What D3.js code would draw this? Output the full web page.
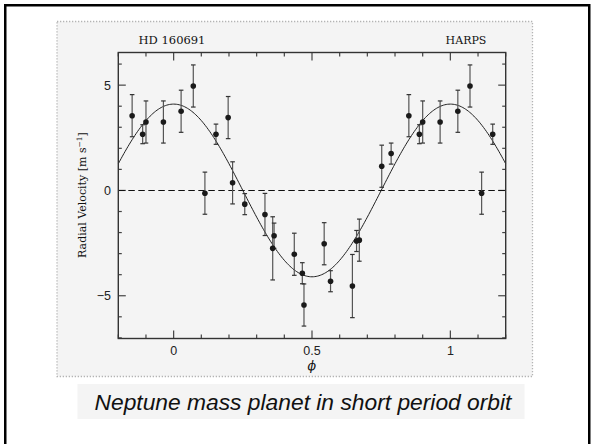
<!DOCTYPE html>
<html>
<head>
<meta charset="utf-8">
<script src="https://cdn.jsdelivr.net/npm/d3@7"></script>
<style>
  body { margin: 0; background: #fff; }
  svg { display: block; }
</style>
</head>
<body>
<div id="chart"></div>
<script>
// phase-folded radial velocities of HD 160691 (HARPS)
var phase = [0.027, 0.071, 0.113, 0.153, 0.197, 0.213, 0.257, 0.330, 0.358, 0.363,
             0.436, 0.465, 0.471, 0.544, 0.567, 0.646, 0.661, 0.671, 0.752, 0.786,
             0.850, 0.888, 0.900, 0.963];
var rv = [3.76, 4.96, -0.13, 2.67, 3.46, 0.36, -0.65, -1.14, -2.75, -2.15,
          -3.03, -3.93, -5.44, -2.53, -4.31, -4.54, -2.40, -2.36, 1.15, 1.75,
          3.55, 2.67, 3.25, 3.25];
var rvErr = [1.0, 1.0, 1.0, 0.48, 1.0, 1.0, 0.5, 1.0, 1.5, 0.6,
             1.0, 0.5, 1.0, 1.0, 0.5, 1.5, 0.5, 1.0, 1.0, 0.5,
             1.0, 0.45, 1.0, 1.0];
// fitted orbit: semi-amplitude K (m/s), circular
var fitK = 4.1;
var wrap = 0.155;   // points repeated outside [0,1] up to this phase

var xTicksMajor = [0, 0.5, 1];
var yTicksMajor = [-5, 0, 5];

var width = 594, height = 444;

var svg = d3.select("#chart")
    .append("svg")
    .attr("width", width)
    .attr("height", height);

// outer frame
svg.append("rect")
    .attr("x", 5.25).attr("y", 5.25)
    .attr("width", 584).attr("height", 460)
    .attr("fill", "#fff")
    .attr("stroke", "#000")
    .attr("stroke-width", 2.5);

// dotted panel
svg.append("rect")
    .attr("x", 57).attr("y", 21.5)
    .attr("width", 475.5).attr("height", 355)
    .attr("fill", "#f4f4f4")
    .attr("stroke", "#b4b4b4")
    .attr("stroke-width", 1.3)
    .attr("stroke-dasharray", "1.3,1.7");

// caption
svg.append("rect")
    .attr("x", 77.5).attr("y", 384)
    .attr("width", 447).attr("height", 35)
    .attr("fill", "#f4f4f4");
svg.append("text")
    .attr("x", 303).attr("y", 410)
    .attr("text-anchor", "middle")
    .style("font-family", "Liberation Sans, Arial, sans-serif")
    .style("font-style", "italic")
    .style("font-size", "22.8px")
    .attr("fill", "#111")
    .text("Neptune mass planet in short period orbit");

var plot = {left: 118.3, right: 505.7, top: 52.5, bottom: 338.5};

var x = d3.scaleLinear().domain([-0.2, 1.2]).range([plot.left, plot.right]);
var y = d3.scaleLinear().domain([-7.03, 6.55]).range([plot.bottom, plot.top]);

var g = svg.append("g");

// ticks (inward, all four sides)
var tickColor = "#444";
var xMinor = d3.range(-2, 13).map(d => d / 10);
var yMinor = d3.range(-7, 7);

xMinor.forEach(function(t) {
    var major = xTicksMajor.some(m => Math.abs(m - t) < 1e-6);
    var len = major ? 8 : 4;
    g.append("line").attr("x1", x(t)).attr("x2", x(t))
        .attr("y1", plot.bottom).attr("y2", plot.bottom - len)
        .attr("stroke", tickColor).attr("stroke-width", 1.2);
    g.append("line").attr("x1", x(t)).attr("x2", x(t))
        .attr("y1", plot.top).attr("y2", plot.top + len)
        .attr("stroke", tickColor).attr("stroke-width", 1.2);
});
yMinor.forEach(function(t) {
    var major = yTicksMajor.indexOf(t) >= 0;
    var len = major ? 7.5 : 3.5;
    g.append("line").attr("y1", y(t)).attr("y2", y(t))
        .attr("x1", plot.left).attr("x2", plot.left + len)
        .attr("stroke", tickColor).attr("stroke-width", 1.2);
    g.append("line").attr("y1", y(t)).attr("y2", y(t))
        .attr("x1", plot.right).attr("x2", plot.right - len)
        .attr("stroke", tickColor).attr("stroke-width", 1.2);
});

// tick labels
g.selectAll(".xlab").data(xTicksMajor).enter().append("text")
    .attr("x", d => x(d)).attr("y", 355)
    .attr("text-anchor", "middle")
    .style("font-family", "Liberation Sans, Arial, sans-serif")
    .style("font-size", "12.5px")
    .attr("fill", "#222")
    .text(d => d3.format("")(d));
g.selectAll(".ylab").data(yTicksMajor).enter().append("text")
    .attr("x", 111).attr("y", d => y(d) + 4.5)
    .attr("text-anchor", "end")
    .style("font-family", "Liberation Sans, Arial, sans-serif")
    .style("font-size", "12.5px")
    .attr("fill", "#222")
    .text(d => d < 0 ? "\u2212" + Math.abs(d) : d);

// zero line
g.append("line")
    .attr("x1", plot.left).attr("x2", plot.right)
    .attr("y1", y(0)).attr("y2", y(0))
    .attr("stroke", "#111").attr("stroke-width", 1.1)
    .attr("stroke-dasharray", "6.5,3.5");

// fitted curve
var curvePhase = d3.range(-0.2, 1.2001, 0.005);
g.append("path")
    .datum(curvePhase)
    .attr("fill", "none")
    .attr("stroke", "#222")
    .attr("stroke-width", 1)
    .attr("d", d3.line()
        .x(d => x(d))
        .y(d => y(fitK * Math.cos(2 * Math.PI * d))));

// folded data incl. repeated phases
var pts = [];
phase.forEach(function(p, i) {
    pts.push({p: p, v: rv[i], e: rvErr[i]});
    if (p - 1 >= -wrap) pts.push({p: p - 1, v: rv[i], e: rvErr[i]});
    if (p + 1 <= 1 + wrap) pts.push({p: p + 1, v: rv[i], e: rvErr[i]});
});

var errG = g.append("g");
pts.forEach(function(d) {
    var cx = x(d.p);
    errG.append("line").attr("x1", cx).attr("x2", cx)
        .attr("y1", y(d.v + d.e)).attr("y2", y(d.v - d.e))
        .attr("stroke", "#555").attr("stroke-width", 1.2);
    [d.v + d.e, d.v - d.e].forEach(function(c) {
        errG.append("line").attr("x1", cx - 2.3).attr("x2", cx + 2.3)
            .attr("y1", y(c)).attr("y2", y(c))
            .attr("stroke", "#333").attr("stroke-width", 1.2);
    });
});

g.selectAll(".pt").data(pts).enter().append("circle")
    .attr("cx", d => x(d.p))
    .attr("cy", d => y(d.v))
    .attr("r", 2.8)
    .attr("fill", "#1a1a1a");

// frame
g.append("rect")
    .attr("x", plot.left).attr("y", plot.top)
    .attr("width", plot.right - plot.left)
    .attr("height", plot.bottom - plot.top)
    .attr("fill", "none")
    .attr("stroke", "#333")
    .attr("stroke-width", 1.4);

// labels
var serif = "DejaVu Serif, Liberation Serif, serif";
svg.append("text")
    .attr("x", 172).attr("y", 44)
    .attr("text-anchor", "middle")
    .style("font-family", serif).style("font-size", "11.5px")
    .attr("fill", "#111")
    .text("HD 160691");
svg.append("text")
    .attr("x", 466).attr("y", 44)
    .attr("text-anchor", "middle")
    .style("font-family", serif).style("font-size", "11px")
    .attr("fill", "#111")
    .text("HARPS");

var ylab = svg.append("text")
    .attr("transform", "translate(86,195) rotate(-90)")
    .attr("text-anchor", "middle")
    .style("font-family", serif).style("font-size", "11px")
    .attr("fill", "#111");
ylab.append("tspan").text("Radial Velocity [m s");
ylab.append("tspan").attr("dy", -4).style("font-size", "7.5px").text("\u22121");
ylab.append("tspan").attr("dy", 4).text("]");

svg.append("text")
    .attr("x", 311.7).attr("y", 370)
    .attr("text-anchor", "middle")
    .style("font-family", serif).style("font-style", "italic").style("font-size", "12.5px")
    .attr("fill", "#111")
    .text("\u03D5");
</script>
</body>
</html>
